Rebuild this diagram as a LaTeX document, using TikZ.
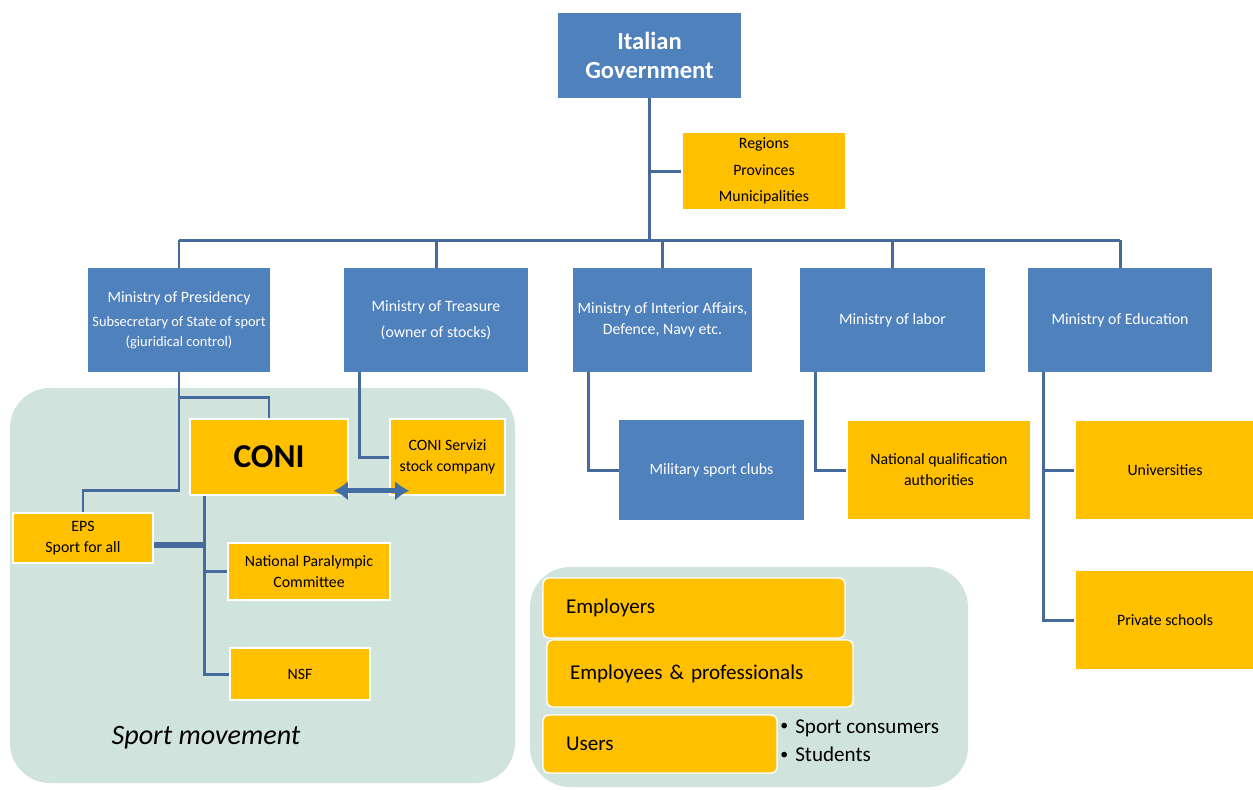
\documentclass[tikz,border=0pt]{standalone}
\usepackage{fontspec}
\setmainfont{Carlito}
\usetikzlibrary{positioning,calc,arrows.meta}
\definecolor{myblue}{RGB}{79,129,189}
\definecolor{myyellow}{RGB}{255,192,0}
\definecolor{myline}{RGB}{70,106,156}
\definecolor{mybg}{RGB}{208,227,220}
\newcommand{\smbul}{\raisebox{1.6pt}{\fontsize{9}{9}\selectfont•}\hspace{4pt}}

\begin{document}
\begin{tikzpicture}[x=0.02cm,y=-0.02cm,
  sz/.style 2 args={minimum width=#1*0.02cm,minimum height=#2*0.02cm},
  bnode/.style={fill=myblue,text=white,align=center,inner sep=1pt,
    font=\fontsize{9}{13}\selectfont},
  ynode/.style={fill=myyellow,draw=white,line width=0.8pt,align=center,inner sep=1pt,
    font=\fontsize{9}{12}\selectfont},
  lnode/.style={ynode,rounded corners=3pt,align=left,inner xsep=0.46cm,
    font=\fontsize{12}{14}\selectfont},
  conn/.style={draw=myline,line width=1.7pt},
  bgbox/.style={fill=mybg,rounded corners=0.8cm}]

  \useasboundingbox (0,0) rectangle (1253,789);

  % the two shaded groups
  \fill[bgbox] (10,388) rectangle (515,783);
  \fill[bgbox] (530,567) rectangle (968,787);

  \node[bnode,sz={183}{85},font=\bfseries\fontsize{14}{17}\selectfont] (gov) at (649.5,55.5) {Italian\\Government};
  \node[ynode,sz={164}{78},font=\fontsize{9}{15}\selectfont] (reg) at (764,171) {Regions\\Provinces\\Municipalities};

  \node[bnode,sz={182}{104},font=\fontsize{8.2}{11}\selectfont] (pres) at (179,320)
    {{\fontsize{9}{11}\selectfont Ministry of Presidency}\\[3pt]Subsecretary of State of sport\\(giuridical control)};
  \node[bnode,sz={184}{104},font=\fontsize{9}{14.5}\selectfont] (treas) at (436,320) {Ministry of Treasure\\(owner of stocks)};
  \node[bnode,sz={179}{104},font=\fontsize{9}{12}\selectfont] (inter) at (662.5,320) {Ministry of Interior Affairs,\\Defence, Navy etc.};
  \node[bnode,sz={185}{104}] (labor) at (892.5,320) {Ministry of labor};
  \node[bnode,sz={184}{104}] (educ) at (1120,320) {Ministry of Education};

  \coordinate (bus) at (0,240);

  \node[ynode,sz={158}{76},font=\bfseries\fontsize{19}{21}\selectfont] (coni) at (269,457) {CONI};
  \node[ynode,sz={115}{76}] (servizi) at (447.5,457) {CONI Servizi\\stock company};
  \node[ynode,sz={140}{50}] (eps) at (83,538) {EPS\\Sport for all};
  \node[ynode,sz={162}{57}] (npc) at (309,571.5) {National Paralympic\\Committee};
  \node[ynode,sz={140}{52}] (nsf) at (300,674) {NSF};
  \node[font=\itshape\fontsize{16}{18}\selectfont] (smlabel) at (206,738) {Sport movement};

  \node[bnode,sz={185}{100}] (mil) at (711.5,470) {Military sport clubs};
  \node[ynode,sz={184}{100}] (nqa) at (939,470) {National qualification\\authorities};
  \node[ynode,sz={180}{100}] (univ) at (1165,470) {Universities};
  \node[ynode,sz={180}{100}] (priv) at (1165,620) {Private schools};

  \node[lnode,text width=5.12cm,minimum height=1.2cm] (empl) at (694,608) {Employers};
  \node[lnode,text width=5.2cm,minimum height=1.34cm] (emps) at (700,673.5) {Employees \& professionals};
  \node[lnode,text width=3.76cm,minimum height=1.16cm] (users) at (660,744) {Users};
  \node[anchor=west,align=left,inner sep=0pt,font=\fontsize{12}{16}\selectfont] (unotes) at (780,741)
    {\smbul Sport consumers\\\smbul Students};

  % government tree
  \draw[conn] (gov.south) -- (gov.south |- bus);
  \draw[conn] (gov.south) |- (reg.west);
  \draw[conn] (pres.north |- bus) -- (educ.north |- bus);
  \foreach \n in {pres,treas,inter,labor,educ}
    \draw[conn] (\n.north) -- (\n.north |- bus);

  \draw[conn] ($(inter.south west)+(16,0)$) |- (mil.west);
  \draw[conn] ($(labor.south west)+(16,0)$) |- (nqa.west);
  \draw[conn] ($(educ.south west)+(16,0)$) |- (univ.west);
  \draw[conn] ($(educ.south west)+(16,0)$) |- (priv.west);

  % sport movement
  \draw[conn] (pres.south) -- ++(0,118) -| (eps.north);
  \draw[conn] ($(pres.south)+(0,25)$) -| (coni.north);
  \draw[conn] ($(treas.south west)+(16,0)$) |- (servizi.west);
  \draw[conn] ($(coni.south west)+(15,0)$) |- (npc.west);
  \draw[conn] ($(coni.south west)+(15,0)$) |- (nsf.west);
  \draw[conn,line width=3.4pt] ($(eps.east)+(0,7)$) -- ++(52,0);
  \draw[conn,draw=myblue!85!black,line width=2.6pt,{Latex[length=8pt,width=11pt]}-{Latex[length=8pt,width=11pt]}]
    ($(coni.south east)+(-15,-5)$) -- ($(servizi.south west)+(20,-5)$);

\end{tikzpicture}
\end{document}
